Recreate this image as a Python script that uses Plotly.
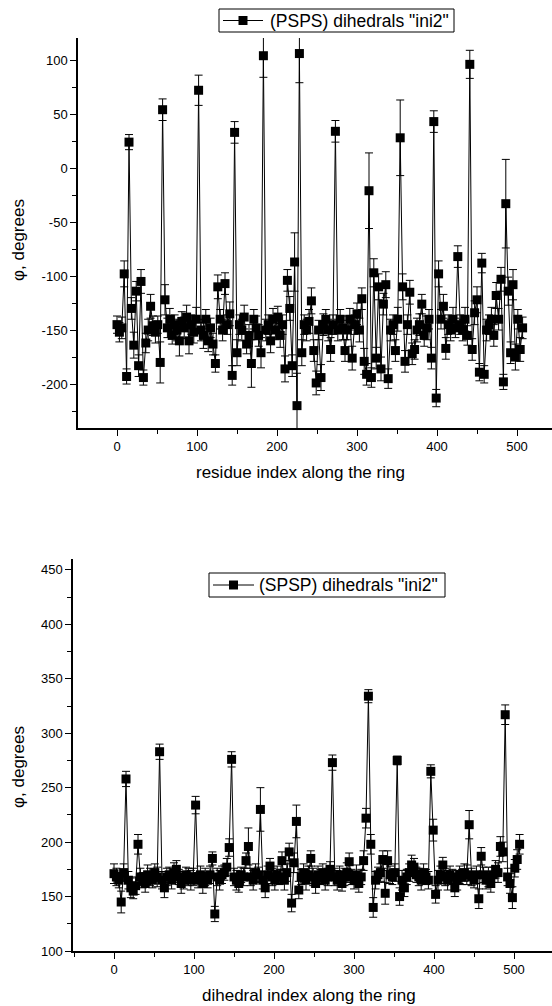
import plotly.graph_objects as go

# residue / dihedral index (every 3rd)
idx = list(range(0, 510, 3))

# (PSPS) dihedrals, degrees
psps_phi = [
    -145, -152, -148, -98, -193, 24, -130, -164, -114, -183,
    -105, -194, -162, -150, -128, -146, -152, -145, -180, 54,
    -122, -148, -140, -155, -145, -150, -160, -142, -148, -138,
    -160, -145, -152, -140, 72, -150, -155, -140, -160, -148,
    -163, -181, -110, -140, -150, -107, -145, -135, -192, 33,
    -171, -145, -150, -138, -163, -155, -181, -140, -148, -155,
    -171, 104, -150, -145, -160, -140, -150, -138, -155, -145,
    -186, -104, -130, -183, -87, -220, 106, -171, -145, -150,
    -142, -123, -169, -199, -150, -194, -145, -140, -150, -168,
    -145, 34, -150, -140, -148, -169, -150, -140, -176, -145,
    -135, -150, -121, -179, -191, -21, -194, -97, -176, -110,
    -186, -126, -108, -195, -150, -145, -169, -140, 28, -110,
    -179, -145, -115, -172, -168, -150, -145, -126, -155, -148,
    -140, -176, 43, -213, -98, -140, -128, -167, -145, -150,
    -140, -148, -82, -145, -150, -140, -155, 96, -168, -134,
    -122, -189, -88, -191, -150, -145, -140, -155, -118, -140,
    -103, -198, -33, -114, -171, -108, -175, -140, -168, -148,
]
psps_err = [
    8, 9, 10, 12, 7, 7, 10, 12, 9, 10,
    11, 7, 9, 10, 11, 9, 10, 8, 19, 10,
    14, 9, 10, 8, 9, 10, 14, 9, 10, 11,
    12, 9, 10, 11, 14, 10, 12, 9, 10, 9,
    10, 8, 11, 9, 10, 10, 9, 11, 9, 10,
    12, 9, 10, 11, 9, 10, 22, 9, 11, 10,
    14, 20, 10, 9, 11, 10, 9, 10, 11, 9,
    12, 10, 11, 10, 27, 30, 27, 12, 9, 10,
    11, 12, 10, 11, 9, 12, 10, 9, 10, 11,
    9, 10, 10, 9, 11, 10, 9, 10, 11, 9,
    10, 11, 10, 12, 10, 35, 9, 13, 10, 12,
    11, 10, 12, 9, 10, 9, 10, 11, 35, 12,
    10, 9, 11, 10, 9, 11, 10, 9, 10, 11,
    9, 10, 10, 8, 12, 9, 11, 10, 9, 10,
    11, 9, 10, 9, 10, 11, 9, 13, 10, 11,
    12, 8, 9, 8, 10, 9, 11, 10, 12, 10,
    11, 7, 41, 13, 10, 14, 12, 9, 11, 10,
]

# (SPSP) dihedrals, degrees
spsp_phi = [
    171, 168, 165, 145, 172, 258, 165, 158, 155, 160,
    198, 168, 165, 162, 170, 168, 165, 172, 168, 283,
    165, 158, 168, 170, 165, 172, 175, 168, 162, 165,
    170, 168, 165, 168, 234, 165, 170, 162, 168, 165,
    170, 185, 134, 168, 165, 170, 172, 177, 195, 276,
    168, 165, 162, 170, 168, 183, 196, 168, 165, 172,
    170, 230, 165, 158, 170, 178, 168, 165, 170, 168,
    183, 165, 172, 191, 144, 181, 219, 156, 168, 172,
    165, 170, 185, 168, 162, 170, 168, 172, 165, 168,
    175, 273, 168, 165, 170, 162, 168, 172, 182, 168,
    165, 170, 162, 168, 183, 222, 334, 198, 140, 165,
    170, 172, 184, 153, 183, 170, 168, 172, 275, 150,
    165, 158, 168, 172, 179, 177, 170, 168, 165, 172,
    168, 165, 265, 211, 152, 165, 170, 179, 168, 165,
    170, 168, 158, 165, 170, 168, 172, 170, 216, 168,
    165, 170, 148, 187, 170, 165, 168, 162, 170, 175,
    172, 196, 191, 317, 168, 162, 149, 176, 184, 198,
]
spsp_err = [
    9, 8, 7, 10, 8, 7, 8, 9, 7, 8,
    9, 8, 7, 8, 9, 8, 7, 8, 9, 7,
    8, 9, 8, 7, 8, 9, 8, 7, 9, 8,
    7, 8, 9, 8, 8, 7, 8, 9, 8, 7,
    8, 6, 7, 8, 9, 8, 7, 8, 8, 7,
    8, 9, 8, 7, 8, 7, 17, 8, 9, 8,
    7, 20, 8, 9, 8, 7, 8, 9, 8, 7,
    8, 9, 8, 8, 8, 9, 15, 8, 7, 8,
    9, 8, 7, 8, 9, 8, 7, 8, 9, 8,
    7, 7, 8, 9, 8, 7, 8, 9, 8, 7,
    8, 9, 8, 7, 9, 9, 6, 9, 9, 8,
    7, 8, 8, 10, 9, 8, 7, 8, 4, 8,
    9, 8, 7, 8, 9, 8, 7, 8, 9, 8,
    7, 8, 6, 10, 8, 9, 8, 7, 8, 9,
    8, 7, 8, 9, 8, 7, 8, 9, 13, 8,
    7, 8, 9, 8, 7, 8, 9, 8, 7, 8,
    9, 9, 9, 9, 8, 9, 10, 8, 9, 9,
]

top_yticks = [-200, -150, -100, -50, 0, 50, 100]
bot_yticks = [100, 150, 200, 250, 300, 350, 400, 450]
xticks = [0, 100, 200, 300, 400, 500]

top_label = '(PSPS) dihedrals "ini2"'
bot_label = '(SPSP) dihedrals "ini2"'
top_xtitle = "residue index along the ring"
bot_xtitle = "dihedral index along the ring"
ytitle = "φ, degrees"

FONT = "Liberation Sans, Arial, sans-serif"

W, H = 552, 1006

def px_x(px):
    return px / W

def px_y(py):
    return (H - py) / H

fig = go.Figure()

common = dict(
    mode="lines+markers",
    line=dict(color="black", width=1),
    marker=dict(symbol="square", size=9, color="black"),
    showlegend=False,
)

fig.add_trace(go.Scatter(
    x=idx, y=psps_phi, name=top_label,
    error_y=dict(type="data", array=psps_err, color="black", thickness=1, width=4),
    xaxis="x", yaxis="y", **common))

fig.add_trace(go.Scatter(
    x=idx, y=spsp_phi, name=bot_label,
    error_y=dict(type="data", array=spsp_err, color="black", thickness=1, width=4),
    xaxis="x2", yaxis="y2", **common))

axis_common = dict(
    showline=True, linecolor="black", linewidth=1.5,
    ticks="outside", ticklen=6, tickwidth=1.2, tickcolor="black",
    showgrid=False, zeroline=False, mirror=False, automargin=False,
    tickfont=dict(family=FONT, size=13, color="black"),
)

fig.update_layout(
    width=W, height=H,
    margin=dict(l=0, r=0, t=0, b=0, autoexpand=False),
    paper_bgcolor="white", plot_bgcolor="white",
    font=dict(family=FONT, color="black"),
    showlegend=False,
    xaxis=dict(domain=[px_x(78), 1], anchor="y",
               range=[-48.75, -48.75 + (552 - 78) / 0.8],
               tickvals=xticks, ticktext=[str(v) for v in xticks],
               minor=dict(dtick=50, tick0=0, ticks="outside", ticklen=4, tickcolor="black"),
               **axis_common),
    yaxis=dict(domain=[px_y(428), px_y(38)], anchor="x",
               range=[-240.7, 120.4],
               tickvals=top_yticks, ticktext=[str(v) for v in top_yticks],
               minor=dict(dtick=25, tick0=0, ticks="outside", ticklen=4, tickcolor="black"),
               **axis_common),
    xaxis2=dict(domain=[px_x(73), 1], anchor="y2",
                range=[-51.25, -51.25 + (552 - 73) / 0.8],
                tickvals=xticks, ticktext=[str(v) for v in xticks],
                minor=dict(dtick=50, tick0=0, ticks="outside", ticklen=4, tickcolor="black"),
                **axis_common),
    yaxis2=dict(domain=[px_y(951), px_y(559)], anchor="x2",
                range=[100, 460],
                tickvals=bot_yticks, ticktext=[str(v) for v in bot_yticks],
                minor=dict(dtick=25, tick0=0, ticks="outside", ticklen=4, tickcolor="black"),
                **axis_common),
)

def add_legend_box(label, x0, x1, y0, y1, sym_x0, sym_x1, text_x):
    yc = (y0 + y1) / 2
    sc = (sym_x0 + sym_x1) / 2
    fig.add_shape(type="rect", xref="paper", yref="paper",
                  x0=px_x(x0), x1=px_x(x1), y0=px_y(y1), y1=px_y(y0),
                  line=dict(color="black", width=1), fillcolor="white", layer="above")
    fig.add_shape(type="line", xref="paper", yref="paper",
                  x0=px_x(sym_x0), x1=px_x(sym_x1), y0=px_y(yc), y1=px_y(yc),
                  line=dict(color="black", width=1), layer="above")
    fig.add_shape(type="rect", xref="paper", yref="paper",
                  x0=px_x(sc - 4.5), x1=px_x(sc + 4.5), y0=px_y(yc + 4.5), y1=px_y(yc - 4.5),
                  line=dict(color="black", width=0), fillcolor="black", layer="above")
    fig.add_annotation(text=label, x=px_x(text_x), y=px_y(yc), xref="paper", yref="paper",
                       xanchor="left", yanchor="middle", showarrow=False,
                       font=dict(family=FONT, size=17.5, color="black"))

add_legend_box(top_label, 219, 454, 9, 32, 223, 263, 268)
add_legend_box(bot_label, 209, 445, 573, 597, 213, 254, 257)

def add_title(text, x, y, angle=0):
    fig.add_annotation(text=text, textangle=angle, x=px_x(x), y=px_y(y),
                       xref="paper", yref="paper", xanchor="center", yanchor="middle",
                       showarrow=False, font=dict(family=FONT, size=17, color="black"))

add_title(ytitle, 18, 240, -90)
add_title(ytitle, 18, 767, -90)
add_title(top_xtitle, 300, 473)
add_title(bot_xtitle, 309, 995)

fig.write_html(
    "out.html",
    config={"displayModeBar": False},
    post_script="document.body.style.margin='0';document.body.style.overflow='hidden';",
)
